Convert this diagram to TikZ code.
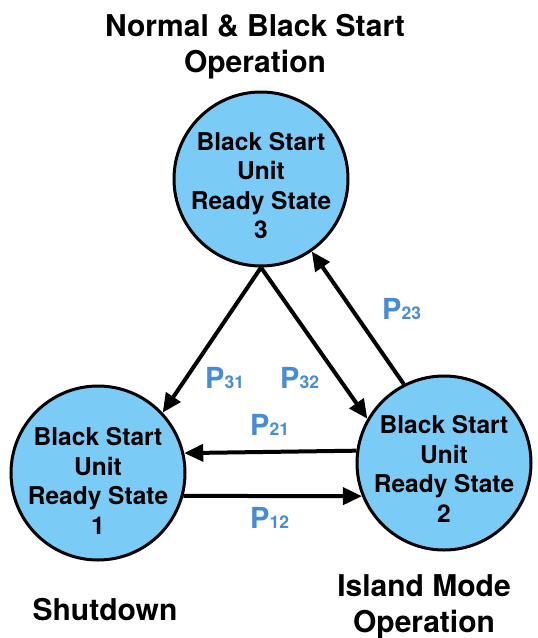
\documentclass[tikz,border=0pt]{standalone}
\usepackage{fontspec}
\setmainfont{TeX Gyre Heros}
\usetikzlibrary{arrows.meta}
\definecolor{statefill}{RGB}{122,204,246}
\definecolor{problabel}{RGB}{70,140,216}
% transition probability label: large P with a smaller index on the same baseline
\newcommand\probP[1]{{\fontsize{29}{29}\selectfont P}{\fontsize{17.5}{17.5}\selectfont #1}}
\begin{document}
\begin{tikzpicture}[x=1pt,y=-1pt,
  state/.style={circle, draw=black, line width=3pt, fill=statefill,
    minimum size=174pt, inner sep=0pt},
  statetext/.style={align=center, inner sep=0pt,
    font=\bfseries\fontsize{24.5}{29.5}\selectfont},
  caption/.style={align=center, inner sep=0pt, anchor=north,
    font=\bfseries\fontsize{30}{36}\selectfont},
  prob/.style={text=problabel, font=\bfseries, inner sep=0pt, anchor=base west},
  trans/.style={draw=black, line width=4pt,
    -{Triangle[length=19pt,width=17pt]}}
]
\useasboundingbox (0,0) rectangle (538,638);

% states
\node[state] (c3) at (261,179) {};
\node[state] (c1) at (98,473) {};
\node[state] (c2) at (444,463) {};

\node[statetext] (t3) at ([yshift=-6.5pt]c3.center) {Black Start\\Unit\\Ready State\\3};
\node[statetext] (t1) at ([yshift=-8pt]c1.center) {Black Start\\Unit\\Ready State\\1};
\node[statetext] (t2) at ([yshift=-6pt]c2.center) {Black Start\\Unit\\Ready State\\2};

% operating modes
\node[caption] (m3) at (255,14.5) {Normal \& Black Start\\Operation};
\node[caption] (m1) at (105,598.5) {Shutdown};
\node[caption] (m2) at (424,574.5) {Island Mode\\Operation};

% transitions
\draw[trans] (c3.south) -- (c1.43);
\draw[trans] (c3.south) -- (c2.150);
\draw[trans] (c2.117) -- (c3.305);
\draw[trans] (c2.172.86) -- (c1.13.73);
\draw[trans] (c1.-15.73) -- (c2.202.59);

% transition probabilities
\node[prob] (p31) at (205,388) {\probP{31}};
\node[prob] (p32) at (280,388) {\probP{32}};
\node[prob] (p23) at (382,319) {\probP{23}};
\node[prob] (p21) at (250,435) {\probP{21}};
\node[prob] (p12) at (250,528) {\probP{12}};
\end{tikzpicture}
\end{document}
